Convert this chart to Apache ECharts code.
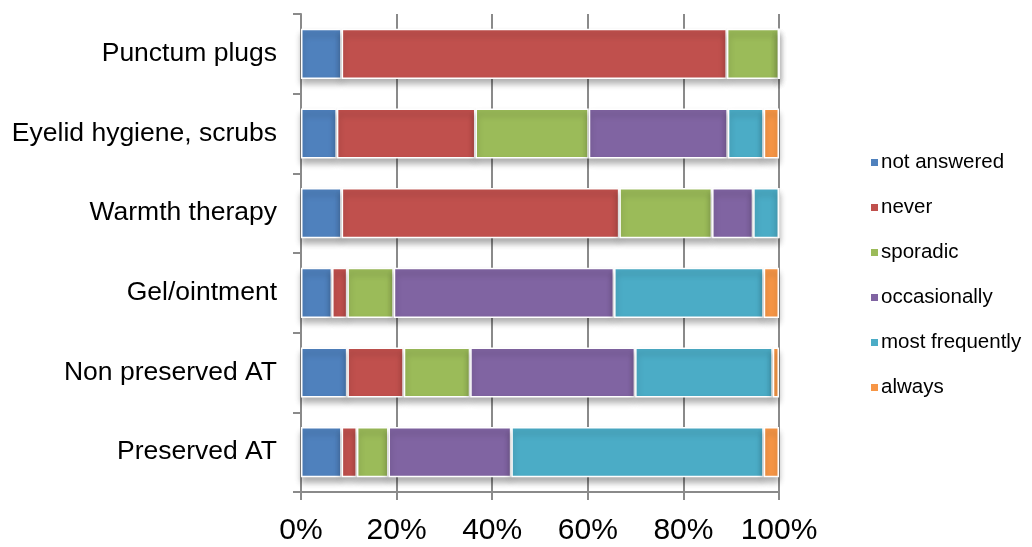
<!DOCTYPE html>
<html>
<head>
<meta charset="utf-8">
<script src="https://cdn.jsdelivr.net/npm/echarts@6/dist/echarts.min.js"></script>
<style>
  html, body { margin: 0; padding: 0; background: #fff; }
  #chart { width: 1032px; height: 547px; }
</style>
</head>
<body>
<div id="chart"></div>
<script>
// Treatment categories, top to bottom
const categories = [
  'Punctum plugs',
  'Eyelid hygiene, scrubs',
  'Warmth therapy',
  'Gel/ointment',
  'Non preserved AT',
  'Preserved AT'
];

// Share of responses (%) per answer, in category order
const notAnswered    = [8.5, 7.5, 8.5, 6.5, 9.7, 8.5];
const never          = [80.6, 29.0, 58.1, 3.2, 11.8, 3.2];
const sporadic       = [10.9, 23.7, 19.4, 9.7, 13.9, 6.6];
const occasionally   = [0, 29.1, 8.6, 46.1, 34.5, 25.7];
const mostFrequently = [0, 7.5, 5.4, 31.3, 28.8, 52.8];
const always         = [0, 3.2, 0, 3.2, 1.3, 3.2];

const answerNames = ['not answered', 'never', 'sporadic', 'occasionally', 'most frequently', 'always'];
const answerData = [notAnswered, never, sporadic, occasionally, mostFrequently, always];
const colors = ['#4F81BD', '#C0504D', '#9BBB59', '#8064A2', '#4BACC6', '#F79646'];

const FONT = '"Liberation Sans", Arial, Helvetica, sans-serif';

const chart = echarts.init(document.getElementById('chart'), null, { renderer: 'canvas' });

const series = answerNames.map((name, i) => ({
  name: name,
  type: 'bar',
  stack: 'total',
  barCategoryGap: '37%',
  data: answerData[i],
  itemStyle: {
    color: colors[i],
    borderColor: '#ffffff',
    borderWidth: 1.5,
    shadowColor: 'rgba(0,0,0,0.3)',
    shadowBlur: 6,
    shadowOffsetY: 5
  },
  emphasis: { disabled: true }
}));

chart.setOption({
  animation: false,
  backgroundColor: '#ffffff',
  color: colors,
  textStyle: { fontFamily: FONT },
  grid: { left: 301, right: 253, top: 14, bottom: 55, containLabel: false },
  legend: {
    orient: 'vertical',
    left: 864,
    top: 147,
    itemWidth: 9,
    itemHeight: 9,
    itemGap: 24,
    icon: 'rect',
    textStyle: { fontFamily: FONT, fontSize: 20.5, color: '#000', padding: [0, 0, 0, -3] },
    data: answerNames
  },
  xAxis: {
    type: 'value',
    min: 0,
    max: 100,
    interval: 20,
    axisLine: { show: true, lineStyle: { color: '#8a8a8a', width: 2 } },
    axisTick: { show: true, length: 8, lineStyle: { color: '#8a8a8a', width: 2 } },
    splitLine: { show: true, lineStyle: { color: '#8a8a8a', width: 2 } },
    axisLabel: {
      formatter: '{value}%',
      fontSize: 30,
      color: '#000',
      fontFamily: FONT,
      margin: 24
    }
  },
  yAxis: {
    type: 'category',
    inverse: true,
    data: categories,
    axisLine: { show: true, lineStyle: { color: '#8a8a8a', width: 2 } },
    axisTick: { show: true, length: 8, lineStyle: { color: '#8a8a8a', width: 2 } },
    axisLabel: {
      fontSize: 26.5,
      color: '#000',
      fontFamily: FONT,
      margin: 24
    }
  },
  series: series
});
</script>
</body>
</html>
